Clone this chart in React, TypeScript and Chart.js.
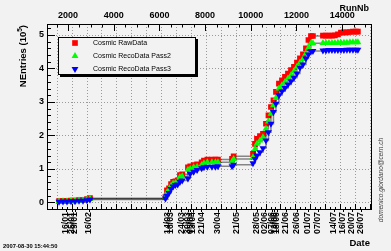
import React, { useEffect, useRef } from 'react';
import { Chart, registerables } from 'chart.js';

Chart.register(...registerables);

const FONT = "'Liberation Sans', Arial, Helvetica, sans-serif";

// ---- data (cumulative entries in units of 10^5 vs run number) ----
const runNumbers = [
  1606, 1781, 1956, 2131, 2306, 2481, 2656, 2831, 2963,
  6266, 6330, 6420, 6510, 6600, 6700, 6800, 6900, 7000, 7250, 7350, 7500, 7650, 7850, 7950, 8100, 8300, 8450, 8564,
  9180, 9250,
  10096, 10184, 10271, 10402, 10533, 10665, 10774, 10883, 10993, 11102, 11233, 11365, 11496, 11627, 11759, 11890,
  12021, 12152, 12283, 12415, 12524, 12634,
  12721, 13159, 13290, 13422, 13553, 13684, 13815, 13947, 14078, 14209, 14340, 14472, 14603, 14690,
];
const rawData = [
  0.04, 0.05, 0.05, 0.06, 0.06, 0.07, 0.07, 0.10, 0.13,
  0.16, 0.36, 0.42, 0.55, 0.62, 0.63, 0.66, 0.82, 0.84, 1.05, 1.08, 1.12, 1.14, 1.20, 1.25, 1.28, 1.28, 1.28, 1.28,
  1.30, 1.38,
  1.45, 1.75, 1.90, 1.98, 2.05, 2.35, 2.60, 2.85, 3.05, 3.30, 3.55, 3.65, 3.75, 3.85, 3.95, 4.05,
  4.18, 4.30, 4.42, 4.60, 4.85, 4.97,
  4.97, 4.98, 4.98, 4.98, 4.98, 4.99, 5.02, 5.07, 5.08, 5.08, 5.09, 5.10, 5.10, 5.10,
];
const recoPass2 = [
  0.03, 0.04, 0.04, 0.05, 0.05, 0.06, 0.06, 0.09, 0.11,
  0.14, 0.30, 0.37, 0.50, 0.57, 0.58, 0.61, 0.76, 0.78, 0.98, 1.00, 1.05, 1.07, 1.12, 1.17, 1.20, 1.20, 1.20, 1.20,
  1.22, 1.30,
  1.35, 1.60, 1.75, 1.85, 1.95, 2.20, 2.42, 2.65, 2.90, 3.12, 3.40, 3.50, 3.60, 3.70, 3.80, 3.92,
  4.05, 4.17, 4.28, 4.45, 4.62, 4.75,
  4.75, 4.76, 4.76, 4.76, 4.76, 4.76, 4.77, 4.77, 4.77, 4.77, 4.78, 4.78, 4.78, 4.78,
];
const recoPass3 = [
  0.02, 0.03, 0.03, 0.04, 0.04, 0.05, 0.05, 0.07, 0.09,
  0.12, 0.20, 0.28, 0.40, 0.48, 0.52, 0.54, 0.62, 0.66, 0.72, 0.86, 0.92, 0.97, 1.02, 1.05, 1.07, 1.07, 1.07, 1.08,
  1.08, 1.13,
  1.17, 1.30, 1.40, 1.50, 1.62, 1.85, 2.10, 2.35, 2.70, 2.95, 3.20, 3.32, 3.42, 3.52, 3.62, 3.72,
  3.85, 4.02, 4.12, 4.30, 4.42, 4.52,
  4.52, 4.54, 4.54, 4.55, 4.55, 4.55, 4.55, 4.55, 4.55, 4.56, 4.56, 4.56, 4.56, 4.56,
];
const seriesNames = ['Cosmic RawData', 'Cosmic RecoData Pass2', 'Cosmic RecoData Pass3'];

const runTickValues = [2000, 4000, 6000, 8000, 10000, 12000, 14000];
const dateTickRuns = [
  1912, 2175, 2284, 2919, 6376, 6485, 6967, 7251, 7361, 7470, 7842, 8564, 9373,
  10271, 10621, 10927, 11037, 11146, 11540, 12021, 12502, 12940, 13640, 14034, 14428, 14822,
];
const dateTickLabels = [
  '16/01', '25/01', '29/01', '16/02', '14/03', '16/03', '24/03', '30/03', '05/04', '13/04', '21/04', '30/04', '21/05',
  '28/05', '02/06', '07/06', '13/06', '18/06', '21/06', '26/06', '01/07', '07/07', '14/07', '16/07', '20/07', '26/07',
];
const yTickValues = [0, 1, 2, 3, 4, 5];

// ---- axis ranges & styling ----
const RUN_MIN = 1080;
const RUN_MAX = 15285;
const Y_MIN = -0.209;
const Y_MAX = 5.328;
const GRID_START = 1505;
const GRID_STEP = 653;
const BG = '#f2f2f2';
const LINE = 'rgba(0,0,0,0.45)';
const R_RECT = 4;
const R_TRI = 4;

function markerPath(ctx: CanvasRenderingContext2D, style: string, x: number, y: number, r: number) {
  ctx.beginPath();
  if (style === 'rect') {
    const s = r * Math.SQRT1_2;
    ctx.rect(x - s, y - s, 2 * s, 2 * s);
  } else if (style === 'up') {
    ctx.moveTo(x, y - r);
    ctx.lineTo(x + r * 0.866, y + r * 0.5);
    ctx.lineTo(x - r * 0.866, y + r * 0.5);
    ctx.closePath();
  } else {
    ctx.moveTo(x, y + r);
    ctx.lineTo(x + r * 0.866, y - r * 0.5);
    ctx.lineTo(x - r * 0.866, y - r * 0.5);
    ctx.closePath();
  }
}

const decorPlugin = {
  id: 'decor',
  beforeDraw(chart: any) {
    const { ctx, width, height } = chart;
    ctx.save();
    ctx.fillStyle = BG;
    ctx.fillRect(0, 0, width, height);
    ctx.restore();
  },
  beforeDatasetsDraw(chart: any) {
    const { ctx, chartArea: a, scales } = chart;
    ctx.save();
    ctx.strokeStyle = '#9a9a9a';
    ctx.lineWidth = 1;
    ctx.setLineDash([1, 2]);
    for (let r = GRID_START; r < RUN_MAX - 50; r += GRID_STEP) {
      const x = Math.round(scales.x.getPixelForValue(r)) + 0.5;
      ctx.beginPath();
      ctx.moveTo(x, a.top);
      ctx.lineTo(x, a.bottom);
      ctx.stroke();
    }
    for (const v of yTickValues) {
      const y = Math.round(scales.y.getPixelForValue(v)) + 0.5;
      ctx.beginPath();
      ctx.moveTo(a.left, y);
      ctx.lineTo(a.right, y);
      ctx.stroke();
    }
    ctx.restore();
  },
  afterDraw(chart: any) {
    const { ctx, chartArea: a, scales } = chart;
    ctx.save();
    // frame
    ctx.strokeStyle = '#000';
    ctx.lineWidth = 1;
    ctx.strokeRect(Math.round(a.left) + 0.5, Math.round(a.top) + 0.5, Math.round(a.right - a.left) - 1, Math.round(a.bottom - a.top) - 1);
    // y ticks (inside)
    const L = Math.round(a.left);
    for (let k = -1; k <= 26; k++) {
      const v = k * 0.2;
      if (v < Y_MIN || v > Y_MAX) continue;
      const y = Math.round(scales.y.getPixelForValue(v)) + 0.5;
      const len = k % 5 === 0 ? 8 : 4;
      ctx.beginPath();
      ctx.moveTo(L, y);
      ctx.lineTo(L + len, y);
      ctx.stroke();
    }
    // top axis ticks
    const T = Math.round(a.top);
    for (let r = 1500; r < RUN_MAX; r += 500) {
      const x = Math.round(scales.x.getPixelForValue(r)) + 0.5;
      const len = r % 2000 === 0 ? 7 : 3.5;
      ctx.beginPath();
      ctx.moveTo(x, T);
      ctx.lineTo(x, T + len);
      ctx.stroke();
    }
    // bottom axis ticks
    const B = Math.round(a.bottom);
    for (let r = GRID_START - GRID_STEP / 3 * 2; r < RUN_MAX; r += GRID_STEP / 3) {
      if (r < RUN_MIN) continue;
      const idx = Math.round((r - GRID_START) / (GRID_STEP / 3));
      const x = Math.round(scales.x.getPixelForValue(r)) + 0.5;
      const len = idx % 3 === 0 ? 6 : 3;
      ctx.beginPath();
      ctx.moveTo(x, B);
      ctx.lineTo(x, B - len);
      ctx.stroke();
    }
    // date ticks (below the frame)
    for (const r of dateTickRuns) {
      const x = Math.round(scales.xDate.getPixelForValue(r)) + 0.5;
      ctx.beginPath();
      ctx.moveTo(x, B);
      ctx.lineTo(x, B + 2);
      ctx.stroke();
    }

    // axis titles
    ctx.fillStyle = '#000';
    ctx.textBaseline = 'middle';
    ctx.font = `bold 9px ${FONT}`;
    ctx.textAlign = 'right';
    ctx.fillText('RunNb', 369, 8.5);
    ctx.font = `bold 9.5px ${FONT}`;
    ctx.fillText('Date', 370, 243);

    // y title with superscript
    ctx.save();
    ctx.translate(23, 25);
    ctx.rotate(-Math.PI / 2);
    ctx.textAlign = 'left';
    ctx.font = `bold 9.5px ${FONT}`;
    const p1 = 'NEntries (10';
    const p3 = ')';
    const w1 = ctx.measureText(p1).width;
    const w3 = ctx.measureText(p3).width;
    ctx.font = `bold 6.5px ${FONT}`;
    const w2 = ctx.measureText('5').width;
    const x0 = -(w1 + w2 + w3);
    ctx.font = `bold 9.5px ${FONT}`;
    ctx.fillText(p1, x0, 0);
    ctx.fillText(p3, x0 + w1 + w2, 0);
    ctx.font = `bold 6.5px ${FONT}`;
    ctx.fillText('5', x0 + w1, -3);
    ctx.restore();

    // timestamp
    ctx.textAlign = 'left';
    ctx.font = `bold 5.8px ${FONT}`;
    ctx.fillText('2007-08-30 15:44:50', 3, 246);

    // e-mail
    ctx.save();
    ctx.translate(381, 180);
    ctx.rotate(-Math.PI / 2);
    ctx.textAlign = 'center';
    ctx.fillStyle = '#444';
    ctx.font = `italic 6.6px ${FONT}`;
    ctx.fillText('domenico.giordano@cern.ch', 0, 0);
    ctx.restore();

    // legend
    const lx = 58, ly = 37, lw = 138, lh = 38;
    ctx.fillStyle = '#000';
    ctx.fillRect(lx + 2, ly + lh, lw, 2);
    ctx.fillRect(lx + lw, ly + 2, 2, lh);
    ctx.fillStyle = BG;
    ctx.fillRect(lx, ly, lw, lh);
    ctx.strokeStyle = '#000';
    ctx.strokeRect(lx + 0.5, ly + 0.5, lw - 1, lh - 1);
    const styles = ['rect', 'up', 'down'];
    const colors = ['#ff0000', '#00ff00', '#0000ff'];
    const radii = [R_RECT, R_TRI, R_TRI];
    const rows = [43, 56, 69];
    ctx.font = `7px ${FONT}`;
    ctx.textAlign = 'left';
    ctx.textBaseline = 'middle';
    for (let i = 0; i < 3; i++) {
      ctx.fillStyle = colors[i];
      markerPath(ctx, styles[i], 75, rows[i], radii[i]);
      ctx.fill();
      ctx.fillStyle = '#000';
      ctx.fillText(seriesNames[i], 93, rows[i] + 0.5);
    }
    ctx.restore();
  },
};

export default function App() {
  const ref = useRef<HTMLCanvasElement>(null);

  useEffect(() => {
    document.body.style.margin = '0';
    const canvas = ref.current;
    if (!canvas) return;

    const mk = (vals: number[]) => runNumbers.map((r, i) => ({ x: r, y: vals[i] }));
    const common = {
      xAxisID: 'x',
      yAxisID: 'y',
      borderColor: LINE,
      borderWidth: 1.5,
      stepped: 'before' as const,
      fill: false,
      pointBorderWidth: 0,
    };

    const chart = new Chart(canvas, {
      type: 'line',
      data: {
        datasets: [
          {
            ...common,
            label: seriesNames[0],
            data: mk(rawData),
            pointStyle: 'rect',
            pointRadius: R_RECT,
            pointHoverRadius: R_RECT,
            pointBackgroundColor: '#ff0000',
            pointBorderColor: '#ff0000',
            order: 2,
          },
          {
            ...common,
            label: seriesNames[1],
            data: mk(recoPass2),
            pointStyle: 'triangle',
            pointRadius: R_TRI,
            pointHoverRadius: R_TRI,
            pointBackgroundColor: '#00ff00',
            pointBorderColor: '#00ff00',
            order: 1,
          },
          {
            ...common,
            label: seriesNames[2],
            data: mk(recoPass3),
            pointStyle: 'triangle',
            pointRotation: 180,
            pointRadius: R_TRI,
            pointHoverRadius: R_TRI,
            pointBackgroundColor: '#0000ff',
            pointBorderColor: '#0000ff',
            order: 0,
          },
        ],
      },
      options: {
        responsive: false,
        animation: false,
        events: [],
        layout: { padding: { left: 0, right: 19.5, top: 0, bottom: 0 } },
        plugins: { legend: { display: false }, tooltip: { enabled: false } },
        scales: {
          x: {
            type: 'linear',
            position: 'top',
            min: RUN_MIN,
            max: RUN_MAX,
            grid: { display: false, drawTicks: false },
            border: { display: false },
            afterBuildTicks: (s: any) => {
              s.ticks = runTickValues.map((v) => ({ value: v }));
            },
            afterFit: (s: any) => {
              s.height = 24;
            },
            ticks: {
              autoSkip: false,
              maxRotation: 0,
              minRotation: 0,
              padding: 3.5,
              color: '#000',
              font: { family: FONT, size: 9, weight: 'bold' },
              callback: (v: any) => String(v),
            },
          },
          xDate: {
            type: 'linear',
            position: 'bottom',
            min: RUN_MIN,
            max: RUN_MAX,
            grid: { display: false, drawTicks: false },
            border: { display: false },
            afterBuildTicks: (s: any) => {
              s.ticks = dateTickRuns.map((v) => ({ value: v }));
            },
            afterFit: (s: any) => {
              s.height = 41.5;
            },
            ticks: {
              autoSkip: false,
              maxRotation: 90,
              minRotation: 90,
              padding: 2.5,
              color: '#000',
              font: { family: FONT, size: 8.8, weight: 'bold' },
              callback: (_v: any, i: number) => dateTickLabels[i],
            },
          },
          y: {
            type: 'linear',
            position: 'left',
            min: Y_MIN,
            max: Y_MAX,
            grid: { display: false, drawTicks: false },
            border: { display: false },
            afterBuildTicks: (s: any) => {
              s.ticks = yTickValues.map((v) => ({ value: v }));
            },
            afterFit: (s: any) => {
              s.width = 47;
            },
            ticks: {
              padding: 3,
              color: '#000',
              font: { family: FONT, size: 9, weight: 'bold' },
              callback: (v: any) => String(v),
            },
          },
        },
      } as any,
      plugins: [decorPlugin],
    });

    return () => chart.destroy();
  }, []);

  return (
    <canvas
      ref={ref}
      width={391}
      height={251}
      style={{ display: 'block', width: '391px', height: '251px' }}
    />
  );
}
